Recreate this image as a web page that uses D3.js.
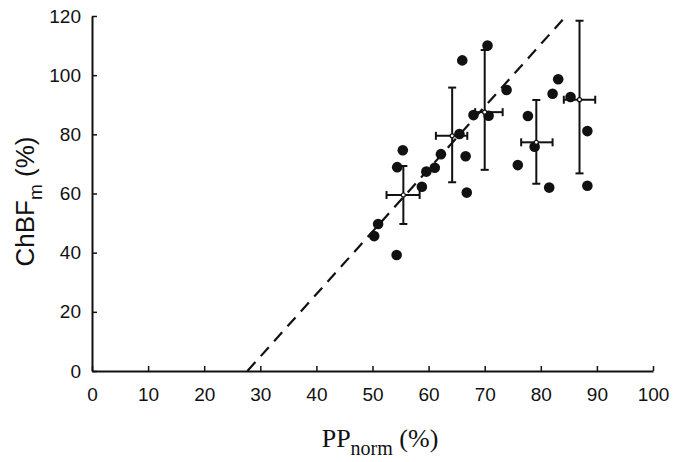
<!DOCTYPE html>
<html>
<head>
<meta charset="utf-8">
<script src="https://cdn.jsdelivr.net/npm/d3@7"></script>
<style>
  body { margin: 0; background: #fff; }
  svg text { fill: #111; }
</style>
</head>
<body>
<div id="chart"></div>
<script>
// individual points (PPnorm %, ChBFm %)
const pointX = [70.5, 66.0, 73.9, 68.0, 70.7, 65.5, 62.2, 66.6, 55.4, 54.4, 59.6, 61.1, 58.8, 66.8,
                75.9, 83.1, 82.1, 85.3, 77.7, 78.9, 88.3, 81.5, 88.3, 54.3, 51.0, 50.3];
const pointY = [110.0, 105.0, 95.0, 86.5, 86.3, 80.1, 73.3, 72.6, 74.6, 68.9, 67.4, 68.7, 62.3, 60.3,
                69.6, 98.6, 93.7, 92.6, 86.2, 75.8, 81.1, 62.0, 62.6, 39.2, 49.7, 45.6];

// group means with error bars
const meanX = [55.5, 64.2, 70.0, 79.2, 86.9];
const meanY = [59.5, 79.5, 87.5, 77.3, 91.7];
const xLow  = [52.5, 61.3, 68.3, 76.5, 84.1];
const xHigh = [58.4, 66.9, 73.2, 82.1, 89.7];
const yLow  = [49.7, 63.8, 68.0, 63.3, 66.8];
const yHigh = [69.3, 95.8, 108.5, 91.6, 118.4];

// dashed regression line
const lineX = [27.7, 84.5];
const lineY = [0, 120];

const xTicks = [0, 10, 20, 30, 40, 50, 60, 70, 80, 90, 100];
const yTicks = [0, 20, 40, 60, 80, 100, 120];

const width = 675, height = 462;
const margin = {left: 92, right: 22, top: 16, bottom: 91};

const svg = d3.select("#chart").append("svg")
    .attr("width", width)
    .attr("height", height);

const x = d3.scaleLinear().domain([0, 100]).range([margin.left, width - margin.right]);
const y = d3.scaleLinear().domain([0, 120]).range([height - margin.bottom, margin.top]);

const tickFont = "'Liberation Sans', Arial, sans-serif";

// axes
const xAxis = svg.append("g")
    .attr("transform", `translate(0,${y(0)})`)
    .call(d3.axisBottom(x).tickValues(xTicks).tickSize(-5).tickPadding(12).tickSizeOuter(0));
const yAxis = svg.append("g")
    .attr("transform", `translate(${x(0)},0)`)
    .call(d3.axisLeft(y).tickValues(yTicks).tickSize(-5).tickPadding(11).tickSizeOuter(0));

[xAxis, yAxis].forEach(g => {
    g.select(".domain").attr("stroke", "#111").attr("stroke-width", 2);
    g.selectAll(".tick line").attr("stroke", "#111").attr("stroke-width", 1.5);
    g.selectAll(".tick text")
        .attr("font-family", tickFont)
        .attr("font-size", 19)
        .attr("fill", "#111");
});
xAxis.selectAll(".tick text").attr("dy", "0.95em");

// dashed line
svg.append("line")
    .attr("x1", x(lineX[0])).attr("y1", y(lineY[0]))
    .attr("x2", x(lineX[1])).attr("y2", y(lineY[1]))
    .attr("stroke", "#111")
    .attr("stroke-width", 2.2)
    .attr("stroke-dasharray", "12,8");

// points
svg.append("g").selectAll("circle")
    .data(pointX.map((d, i) => [d, pointY[i]]))
    .enter()
    .append("circle")
    .attr("cx", d => x(d[0]))
    .attr("cy", d => y(d[1]))
    .attr("r", 5.3)
    .attr("fill", "#111");

// error bar crosses
const cap = 4;
const bars = svg.append("g").attr("stroke", "#111").attr("stroke-width", 2);
meanX.forEach((mx, i) => {
    const g = bars.append("g");
    g.append("line").attr("x1", x(mx)).attr("x2", x(mx)).attr("y1", y(yLow[i])).attr("y2", y(yHigh[i]));
    g.append("line").attr("x1", x(mx) - cap).attr("x2", x(mx) + cap).attr("y1", y(yLow[i])).attr("y2", y(yLow[i]));
    g.append("line").attr("x1", x(mx) - cap).attr("x2", x(mx) + cap).attr("y1", y(yHigh[i])).attr("y2", y(yHigh[i]));
    g.append("line").attr("x1", x(xLow[i])).attr("x2", x(xHigh[i])).attr("y1", y(meanY[i])).attr("y2", y(meanY[i]));
    g.append("line").attr("x1", x(xLow[i])).attr("x2", x(xLow[i])).attr("y1", y(meanY[i]) - cap).attr("y2", y(meanY[i]) + cap);
    g.append("line").attr("x1", x(xHigh[i])).attr("x2", x(xHigh[i])).attr("y1", y(meanY[i]) - cap).attr("y2", y(meanY[i]) + cap);
    g.append("circle").attr("cx", x(mx)).attr("cy", y(meanY[i])).attr("r", 2)
        .attr("fill", "#fff").attr("stroke-width", 1.2);
});

// y label
const yLabel = svg.append("text")
    .attr("transform", `translate(34,${(y(0) + y(120)) / 2 + 8}) rotate(-90)`)
    .attr("text-anchor", "middle")
    .attr("font-family", tickFont)
    .attr("font-size", 26);
yLabel.append("tspan").text("ChBF");
yLabel.append("tspan").attr("font-size", 19).attr("dy", 8).text("m");
yLabel.append("tspan").attr("dy", -8).text(" (%)");

// x label
const xLabel = svg.append("text")
    .attr("x", 380)
    .attr("y", 447)
    .attr("text-anchor", "middle")
    .attr("font-family", "'Liberation Serif', 'Times New Roman', serif")
    .attr("font-size", 26);
xLabel.append("tspan").text("PP");
xLabel.append("tspan").attr("font-size", 20).attr("dy", 8).text("norm");
xLabel.append("tspan").attr("dy", -8).text(" (%)");
</script>
</body>
</html>
